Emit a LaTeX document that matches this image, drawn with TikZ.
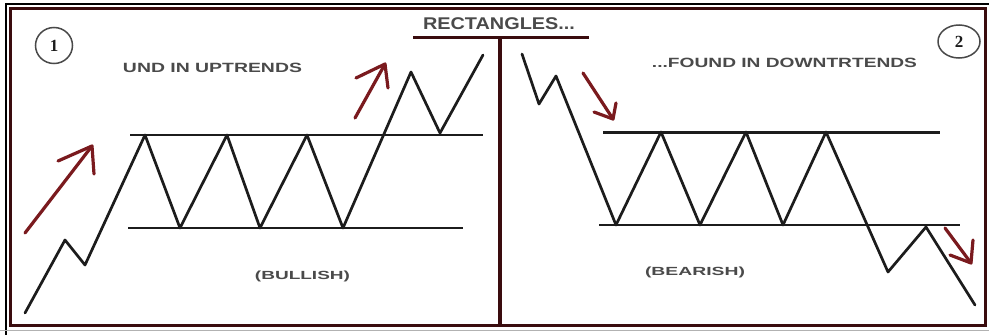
\documentclass[tikz,border=0pt]{standalone}
\usepackage{fontspec}
\usepackage{graphicx}
\setmainfont{Liberation Sans}
\newfontfamily\digitfont{Liberation Serif}
\definecolor{maroon}{HTML}{3A0C0E}
\definecolor{arrowred}{HTML}{7A1A1E}
\definecolor{ink}{HTML}{1C1C1C}
\definecolor{txt}{HTML}{4A4A4A}
\tikzset{
  zig/.style={draw=ink, line width=2.7pt, line join=round, line cap=round},
  level/.style={draw=ink, line width=2.4pt},
  trendarrow/.style={draw=arrowred, line width=3.2pt, line cap=round, line join=round},
  lbl/.style={inner sep=0pt, text=txt, font=\bfseries},
  numtext/.style={inner sep=0pt, font=\digitfont\bfseries\fontsize{17}{17}\selectfont, text=ink},
  ring/.style={draw=ink!80, line width=1.5pt},
}
\begin{document}
\begin{tikzpicture}[x=1pt,y=-1pt]
\useasboundingbox (0,0) rectangle (989,335);
\fill[white] (0,0) rectangle (989,335);
% frame
\draw[black, line width=1.6pt] (6,335) -- (6,4) -- (989,4);
\draw[maroon, line width=3pt] (10.5,8) rectangle (985,325);
\draw[gray!60, line width=0.8pt] (0,330.5) -- (989,330.5);
% divider and title
\draw[maroon, line width=3.5pt] (500,37) -- (500,325);
\draw[maroon, line width=3pt] (413,37) -- (589,37);
\node[lbl] (title) at (499,24) {\resizebox*{152pt}{12pt}{RECTANGLES...}};
% circles
\node[numtext] (c1) at (54,45.5) {1};
\draw[ring] (c1.center) ellipse [x radius=18.5, y radius=18];
\node[numtext] (c2) at (959,41.5) {2};
\draw[ring] (c2.center) ellipse [x radius=21, y radius=16.5];
% labels
\node[lbl] (up) at (212.5,67.5) {\resizebox*{179pt}{9.5pt}{UND IN UPTRENDS}};
\node[lbl] (down) at (784.5,63) {\resizebox*{265pt}{9.5pt}{...FOUND IN DOWNTRTENDS}};
\node[lbl] (bull) at (302.5,276.5) {\resizebox*{95pt}{11pt}{(BULLISH)}};
\node[lbl] (bear) at (695,272.5) {\resizebox*{100pt}{11pt}{(BEARISH)}};
% left chart levels
\draw[level] (130,135) -- (483,135);
\draw[level] (128,228) -- (463,228);
% right chart levels
\draw[level] (603,132.5) -- (940,132.5);
\draw[level] (599,225) -- (960,225);
% left price path
\draw[zig] (25,313) -- (65,240) -- (85,265) -- (145,135) -- (180,228) -- (227,135)
  -- (260,228) -- (307,135) -- (343,228) -- (411,72) -- (440,133) -- (483,55);
% right price path
\draw[zig] (522,54) -- (539,104) -- (556,76) -- (616,225) -- (661,132) -- (700,225)
  -- (746,132) -- (783,225) -- (826,132) -- (888,272) -- (926,227) -- (975,305);
% red arrows
\draw[trendarrow] (25,233) -- (92,146);
\draw[trendarrow] (58,161) -- (92,146) -- (94,174);
\draw[trendarrow] (355,118) -- (385,64);
\draw[trendarrow] (356,78) -- (385,64) -- (388,88);
\draw[trendarrow] (583,73) -- (613,119);
\draw[trendarrow] (594,112) -- (613,119) -- (616,103);
\draw[trendarrow] (945,228) -- (971,263);
\draw[trendarrow] (950,255) -- (971,263) -- (973,240);
\end{tikzpicture}
\end{document}
